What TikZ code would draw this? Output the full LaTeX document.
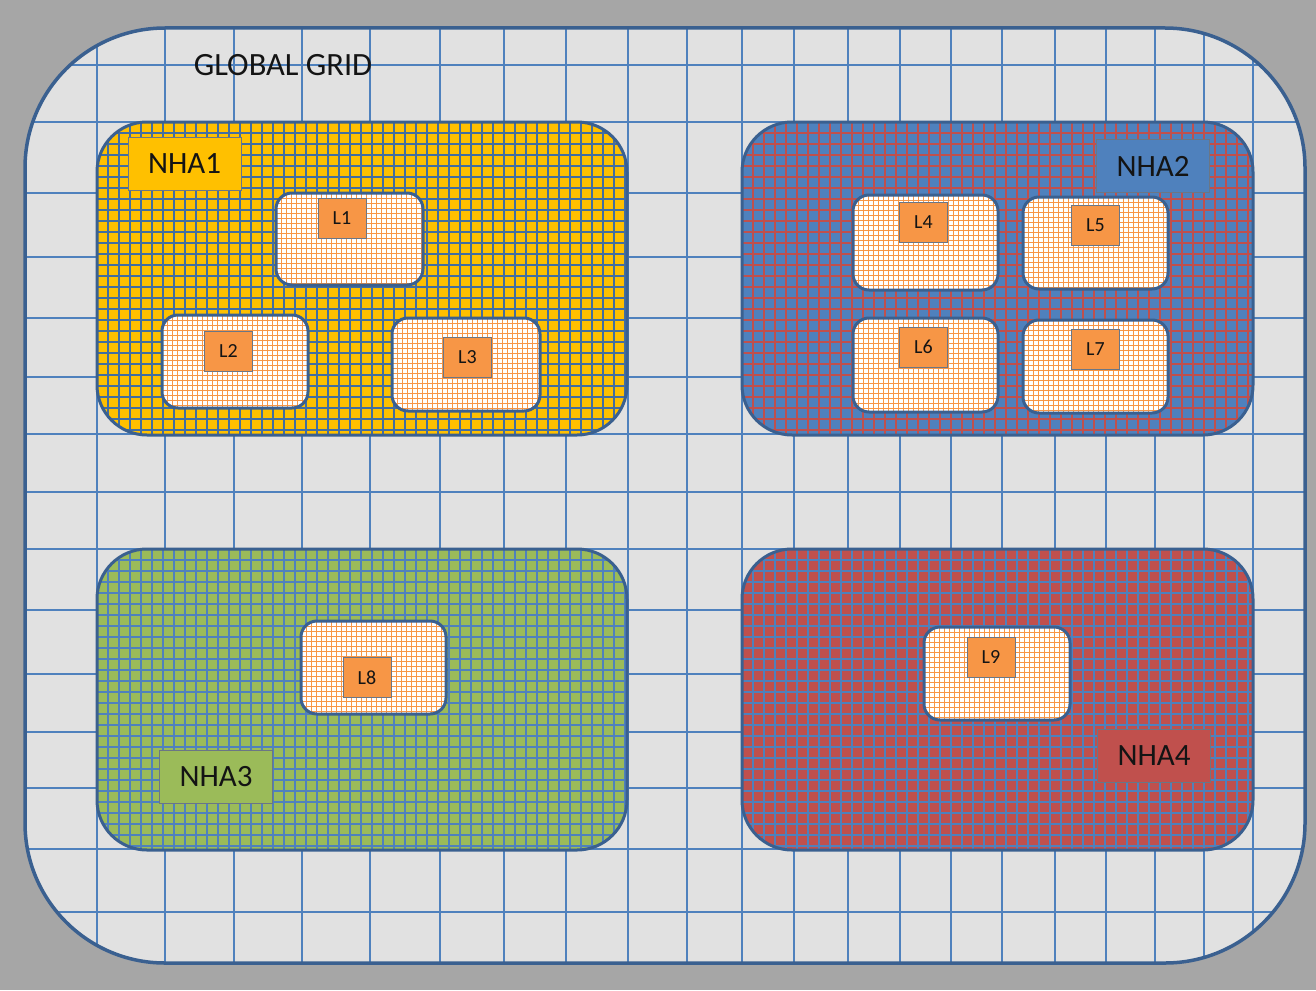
\documentclass[tikz,border=0pt]{standalone}
\usepackage{fontspec}
\setmainfont{Carlito}
\definecolor{bggray}{HTML}{A6A6A6}
\definecolor{globalfill}{HTML}{E1E1E1}
\definecolor{gridblue}{HTML}{4F81BD}
\definecolor{edgeblue}{HTML}{3A6090}
\definecolor{nhayellow}{HTML}{FFC000}
\definecolor{nhablue}{HTML}{4F81BD}
\definecolor{nhagreen}{HTML}{9BBB59}
\definecolor{nhared}{HTML}{C0504D}
\definecolor{lorange}{HTML}{F79646}
\definecolor{labeledge}{HTML}{6B7685}
\definecolor{textdark}{HTML}{141414}
\tikzset{
  box/.style 2 args={rectangle, minimum width=#1pt, minimum height=#2pt, inner sep=0pt, outer sep=0pt},
  hatch/.style n args={3}{path picture={
    \foreach \i in {0,...,#2} {
      \draw[#3] ([xshift=\i*#1 pt]path picture bounding box.north west) -- ([xshift=\i*#1 pt]path picture bounding box.south west);
      \draw[#3] ([yshift=-\i*#1 pt]path picture bounding box.north west) -- ([yshift=-\i*#1 pt]path picture bounding box.north east);
    }}},
  nha/.style={draw=edgeblue, line width=3pt, rounded corners=50pt},
  lbox/.style={draw=edgeblue, line width=3pt, rounded corners=16pt, fill=white, hatch={5}{32}{lorange, line width=1pt}},
  llabel/.style={box={48}{40}, fill=lorange, draw=labeledge, line width=0.9pt, text=textdark, font=\fontsize{20}{20}\selectfont},
  nlabel/.style={box={113}{53}, draw=labeledge, line width=1pt, text=textdark, font=\fontsize{31}{31}\selectfont},
  globalgrid/.style={gridblue, line width=1.4pt},
}
\begin{document}
\begin{tikzpicture}[x=1pt,y=-1pt]
\useasboundingbox (0,0) rectangle (1316,990);
\fill[bggray] (0,0) rectangle (1316,990);
% global area with coarse grid
\begin{scope}
  \clip[rounded corners=140pt] (25,28) rectangle (1305,963);
  \fill[globalfill] (0,0) rectangle (1316,990);
  \foreach \x in {97,165,234,302,370,440,504,566,628,687,742,794,848,900,951,1002,1055,1106,1155,1204,1253}
    \draw[globalgrid] (\x,0) -- (\x,990);
  \foreach \y in {65,122,193,257,318,377,434,492,549,610,674,732,788,849,912}
    \draw[globalgrid] (0,\y) -- (1316,\y);
\end{scope}
\node[font=\fontsize{32.5}{32.5}\selectfont, text=textdark] (gtitle) at (283,65) {GLOBAL GRID};

% NHA areas
\node[box={530}{313}, nha, fill=nhayellow, hatch={11}{50}{gridblue!85!black, line width=1.6pt}] (nha1) at (362,278.5) {};
\node[box={511}{313}, nha, fill=nhablue, hatch={11}{50}{nhared, line width=1.3pt}] (nha2) at (997.5,278.5) {};
\node[box={530}{301}, nha, fill=nhagreen, hatch={11}{50}{gridblue, line width=1.6pt}] (nha3) at (362,699.5) {};
\node[box={511}{301}, nha, fill=nhared, hatch={11}{50}{gridblue, line width=1.3pt}] (nha4) at (997.5,699.5) {};

% inner L boxes
\node[box={147}{92}, lbox] (b1) at (349.5,239) {};
\node[box={146}{93}, lbox] (b2) at (235,361.5) {};
\node[box={148}{93}, lbox] (b3) at (466,364.5) {};
\node[box={145}{95}, lbox] (b4) at (925.5,242.5) {};
\node[box={145}{92}, lbox] (b5) at (1095.5,243) {};
\node[box={145}{94}, lbox] (b6) at (925.5,365) {};
\node[box={145}{93}, lbox] (b7) at (1095.5,366.5) {};
\node[box={145}{93}, lbox] (b8) at (373.5,667.5) {};
\node[box={146}{93}, lbox] (b9) at (997,673.5) {};

% L labels
\node[llabel] (l1) at (342,218.5) {L1};
\node[llabel] (l2) at (228.5,351.5) {L2};
\node[llabel] (l3) at (467.5,357) {L3};
\node[llabel] (l4) at (923.5,222) {L4};
\node[llabel] (l5) at (1095.5,225.5) {L5};
\node[llabel] (l6) at (923.5,347) {L6};
\node[llabel] (l7) at (1095.5,349) {L7};
\node[llabel] (l8) at (367,677.5) {L8};
\node[llabel] (l9) at (991,657) {L9};

% NHA labels
\node[nlabel, fill=nhayellow] (n1) at (184.5,163.5) {NHA1};
\node[nlabel, fill=nhablue] (n2) at (1153,166) {NHA2};
\node[nlabel, fill=nhagreen] (n3) at (216,776.5) {NHA3};
\node[nlabel, fill=nhared] (n4) at (1154,756) {NHA4};

% outer border
\draw[edgeblue, line width=3.5pt, rounded corners=140pt] (25,28) rectangle (1305,963);
\end{tikzpicture}
\end{document}
